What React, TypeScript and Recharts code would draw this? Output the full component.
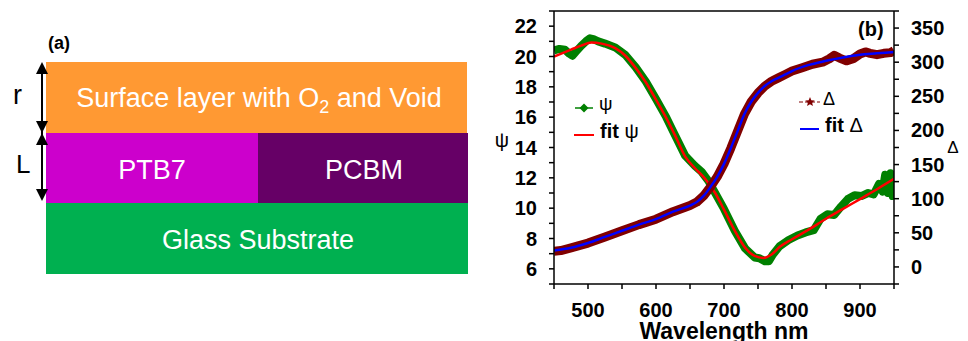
import { LineChart, Line, XAxis, YAxis, ReferenceLine, Customized } from 'recharts'

const FONT = "'Liberation Sans', Arial, sans-serif"

// axis ticks
const xTicks = [450, 500, 550, 600, 650, 700, 750, 800, 850, 900, 950]
const psiTicks = [5, 6, 7, 8, 9, 10, 11, 12, 13, 14, 15, 16, 17, 18, 19, 20, 21, 22, 23]
const deltaTicks = [-25, 0, 25, 50, 75, 100, 125, 150, 175, 200, 225, 250, 275, 300, 325, 350, 375]

// psi measured
const psiNm = [450, 458, 466, 472, 477, 483, 490, 497, 503, 508, 515, 525, 540, 555, 570, 585, 600, 615, 628, 643, 657, 667, 677, 687, 700, 716, 731, 745, 752, 760, 766, 772, 782, 795, 808, 820, 832, 842, 852, 862, 872, 882, 892, 902, 912, 920, 928, 933, 937, 941, 945, 948, 950]
const psiMeas = [20.4, 20.5, 20.45, 20.2, 20.05, 20.35, 20.7, 21.0, 21.2, 21.15, 21.0, 20.85, 20.6, 20.1, 19.3, 18.35, 17.2, 16.0, 14.8, 13.45, 12.8, 12.4, 11.8, 11.0, 9.95, 8.5, 7.35, 6.75, 6.7, 6.5, 6.5, 6.95, 7.5, 7.9, 8.2, 8.4, 8.55, 9.3, 9.6, 9.55, 10.1, 10.6, 10.85, 10.8, 11.0, 10.9, 11.6, 11.1, 12.2, 11.0, 12.3, 10.8, 11.6]

// psi fit
const psiFitNm = [450, 475, 490, 505, 520, 540, 555, 570, 585, 600, 615, 628, 643, 657, 672, 687, 700, 716, 731, 745, 758, 770, 782, 800, 825, 850, 875, 900, 925, 950]
const psiFit = [20.0, 20.45, 20.72, 20.92, 20.85, 20.55, 20.05, 19.25, 18.3, 17.15, 15.95, 14.8, 13.4, 12.65, 11.95, 11.0, 9.9, 8.5, 7.4, 6.85, 6.72, 6.95, 7.45, 7.95, 8.6, 9.3, 9.95, 10.6, 11.25, 11.93]

// delta measured
const deltaNm = [450, 460, 475, 500, 525, 550, 575, 600, 625, 650, 660, 670, 680, 690, 700, 710, 720, 730, 740, 750, 760, 770, 780, 790, 800, 815, 830, 845, 855, 862, 870, 880, 890, 900, 908, 915, 925, 935, 945, 950]
const deltaMeas = [23, 24, 28, 35, 44, 53, 62, 70, 81, 90, 95, 104, 117, 132, 151, 174, 199, 224, 242, 255, 265, 272, 277, 282, 287, 292, 297, 300, 305, 310, 306, 302, 305, 312, 315, 313, 311, 313, 314, 317]

// delta fit
const deltaFitNm = [450, 475, 500, 525, 550, 575, 600, 625, 650, 660, 670, 680, 690, 700, 710, 720, 730, 740, 750, 760, 770, 780, 790, 800, 825, 850, 875, 900, 925, 950]
const deltaFit = [24, 28, 35, 44, 53, 62, 70, 81, 90, 95, 104, 117, 132, 151, 174, 199, 224, 242, 255, 265, 272, 277, 282, 287, 296, 302, 307, 311, 313, 315]

const toPoints = (nm: number[], v: number[]) => nm.map((x, i) => ({ nm: x, v: v[i] }))

const tickStyle = { fontSize: 20, fontWeight: 'bold' as const, fontFamily: FONT, fill: '#000' }
const axisStroke = { stroke: '#000', strokeWidth: 1.5 }

const PsiTick = ({ x, y, payload }: any) =>
  payload.value % 2 === 0
    ? <text x={x} y={y} dy={7} textAnchor="end" {...tickStyle}>{payload.value}</text>
    : <g />

const DeltaTick = ({ x, y, payload }: any) =>
  payload.value % 50 === 0
    ? <text x={x} y={y} dy={7} textAnchor="start" {...tickStyle}>{payload.value}</text>
    : <g />

const WaveTick = ({ x, y, payload }: any) =>
  payload.value % 100 === 0
    ? <text x={x} y={y} dy={28} textAnchor="middle" {...tickStyle}>{payload.value}</text>
    : <g />

function star(cx: number, cy: number, r: number) {
  const pts: string[] = []
  for (let i = 0; i < 10; i++) {
    const rr = i % 2 === 0 ? r : r * 0.45
    const a = -Math.PI / 2 + (i * Math.PI) / 5
    pts.push(`${cx + rr * Math.cos(a)},${cy + rr * Math.sin(a)}`)
  }
  return pts.join(' ')
}

const Extras = () => (
  <g fontFamily={FONT} fill="#000">
    {/* axis titles */}
    <text x={22} y={147} fontSize={20} textAnchor="middle">ψ</text>
    <text x={473} y={153} fontSize={17} textAnchor="middle">Δ</text>
    <text x={244} y={339} fontSize={23} fontWeight="bold" textAnchor="middle">Wavelength nm</text>
    <text x={378} y={36} fontSize={20} fontWeight="bold">(b)</text>

    {/* psi legend */}
    <line x1={95} y1={108} x2={113} y2={108} stroke="#008000" strokeWidth={1.5} />
    <polygon points="104,103.5 108.5,108 104,112.5 99.5,108" fill="#008000" />
    <text x={119} y={110} fontSize={19}>ψ</text>
    <line x1={94} y1={135} x2={114} y2={135} stroke="#ff0000" strokeWidth={2} />
    <text x={120} y={138} fontSize={20}>
      <tspan fontWeight="bold">fit</tspan> ψ
    </text>

    {/* delta legend */}
    <line x1={319} y1={102} x2={340} y2={102} stroke="#800000" strokeWidth={1} strokeDasharray="4 2" />
    <polygon points={star(330, 102, 5)} fill="#800000" />
    <text x={343} y={105} fontSize={18}>Δ</text>
    <line x1={320} y1={129} x2={339} y2={129} stroke="#0000ff" strokeWidth={2} />
    <text x={345} y={132} fontSize={20}>
      <tspan fontWeight="bold">fit</tspan> Δ
    </text>
  </g>
)

const LayerDiagram = () => (
  <svg width={480} height={341} style={{ position: 'absolute', left: 0, top: 0 }} fontFamily={FONT}>
    <text x={48} y={49} fontSize={18} fontWeight="bold">(a)</text>
    <rect x={46} y={62} width={421} height={71} fill="#ff9933" />
    <rect x={46} y={133} width={212} height={70} fill="#cc00cc" />
    <rect x={258} y={133} width={210} height={70} fill="#660066" />
    <rect x={46} y={203} width={422} height={71} fill="#00b050" />
    <text x={259} y={107} fontSize={27} fill="#fff" textAnchor="middle">
      Surface layer with O<tspan fontSize={18} dy={6}>2</tspan><tspan dy={-6}> and Void</tspan>
    </text>
    <text x={152} y={179} fontSize={27} fill="#fff" textAnchor="middle">PTB7</text>
    <text x={364} y={179} fontSize={27} fill="#fff" textAnchor="middle">PCBM</text>
    <text x={258} y={249} fontSize={27} fill="#fff" textAnchor="middle">Glass Substrate</text>
    <text x={13} y={104} fontSize={27}>r</text>
    <text x={16} y={173} fontSize={26}>L</text>
    <line x1={42} y1={66} x2={42} y2={198} stroke="#000" strokeWidth={2} />
    <polygon points="42,62 36,74 48,74" fill="#000" />
    <polygon points="42,133 36,121 48,121" fill="#000" />
    <polygon points="42,133 36,145 48,145" fill="#000" />
    <polygon points="42,201 36,189 48,189" fill="#000" />
  </svg>
)

export default function App() {
  return (
    <div style={{ position: 'absolute', left: 0, top: 0, width: 968, height: 341, background: '#fff' }}>
      <LayerDiagram />
      <div style={{ position: 'absolute', left: 480, top: 0 }}>
        <LineChart width={488} height={341} margin={{ top: 11, right: 0, bottom: 0, left: 0 }}>
          <XAxis
            type="number"
            dataKey="nm"
            domain={[450, 950]}
            ticks={xTicks}
            interval={0}
            allowDataOverflow
            height={57}
            tickSize={5}
            tickMargin={0}
            tick={WaveTick}
            axisLine={axisStroke}
            tickLine={axisStroke}
          />
          <YAxis
            yAxisId="psi"
            type="number"
            domain={[5, 23]}
            ticks={psiTicks}
            interval={0}
            allowDataOverflow
            width={74}
            tickSize={5}
            tickMargin={12}
            tick={PsiTick}
            axisLine={axisStroke}
            tickLine={axisStroke}
          />
          <YAxis
            yAxisId="delta"
            orientation="right"
            type="number"
            domain={[-25, 375]}
            ticks={deltaTicks}
            interval={0}
            allowDataOverflow
            width={74}
            tickSize={5}
            tickMargin={12}
            tick={DeltaTick}
            axisLine={axisStroke}
            tickLine={axisStroke}
          />
          <ReferenceLine yAxisId="psi" y={23} stroke="#000" strokeWidth={1.5} />
          <Line yAxisId="psi" data={toPoints(psiNm, psiMeas)} dataKey="v" stroke="#008000" strokeWidth={8} dot={false} isAnimationActive={false} strokeLinejoin="round" />
          <Line yAxisId="psi" data={toPoints(psiFitNm, psiFit)} dataKey="v" type="monotone" stroke="#ff0000" strokeWidth={2.5} dot={false} isAnimationActive={false} />
          <Line yAxisId="delta" data={toPoints(deltaNm, deltaMeas)} dataKey="v" stroke="#800000" strokeWidth={9} dot={false} isAnimationActive={false} strokeLinejoin="round" />
          <Line yAxisId="delta" data={toPoints(deltaFitNm, deltaFit)} dataKey="v" type="monotone" stroke="#0000ff" strokeWidth={2.5} dot={false} isAnimationActive={false} />
          <Customized component={Extras} />
        </LineChart>
      </div>
    </div>
  )
}
